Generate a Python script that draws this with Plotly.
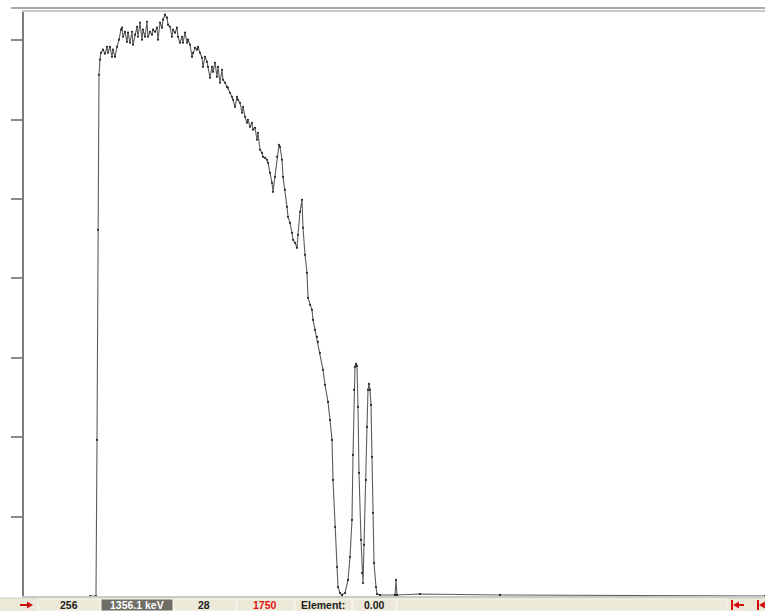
import plotly.graph_objects as go

# Spectrum data (channel, counts)
channels = [
    66, 72, 73, 74, 75, 76, 77, 79, 81, 83,
    84, 86, 88, 89, 91, 93, 95, 97, 98, 99,
    101, 103, 104, 106, 108, 109, 111, 113, 114, 116,
    118, 119, 121, 123, 124, 126, 128, 129, 131, 133,
    134, 136, 138, 139, 141, 143, 144, 146, 148, 149,
    151, 153, 154, 156, 158, 159, 161, 163, 164, 166,
    168, 169, 171, 173, 174, 176, 178, 179, 181, 183,
    184, 186, 188, 189, 191, 193, 194, 196, 198, 199,
    201, 203, 204, 206, 208, 209, 211, 213, 214, 216,
    218, 219, 221, 223, 224, 226, 228, 229, 231, 233,
    234, 236, 238, 239, 241, 243, 244, 246, 248, 249,
    251, 253, 255, 256, 258, 259, 261, 263, 264, 266,
    268, 269, 271, 273, 274, 276, 278, 279, 281, 283,
    284, 286, 288, 289, 291, 293, 294, 296, 299, 301,
    304, 306, 308, 309, 311, 313, 314, 316, 318, 321,
    324, 326, 328, 329, 330, 331, 332, 333, 334, 335,
    337, 338, 339, 340, 342, 343, 344, 345, 346, 347,
    348, 349, 350, 352, 353, 356, 371, 372, 373, 396,
    476, 741,
]
counts = [
    0, 0, 1966, 4612, 6565, 6754, 6842, 6880, 6829, 6917,
    6842, 6917, 6791, 6880, 6791, 6917, 7006, 7132, 7157, 7043,
    7106, 6980, 7094, 6968, 7106, 6943, 7069, 7169, 7043, 7220,
    7006, 7132, 7043, 7232, 7043, 7106, 7069, 7132, 7106, 7157,
    7006, 7220, 7157, 7258, 7321, 7283, 7195, 7169, 7043, 7132,
    7094, 7157, 7043, 6968, 7043, 6968, 7094, 6968, 7006, 6943,
    6791, 6842, 6905, 6880, 6917, 6842, 6779, 6665, 6791, 6728,
    6665, 6527, 6665, 6602, 6716, 6539, 6665, 6464, 6628, 6502,
    6464, 6413, 6401, 6338, 6287, 6250, 6161, 6287, 6250, 6212,
    6086, 6161, 6035, 5960, 5998, 5909, 5960, 5872, 5897, 5746,
    5834, 5620, 5582, 5531, 5519, 5494, 5456, 5330, 5204, 5090,
    5279, 5531, 5683, 5657, 5494, 5279, 5116, 4901, 4775, 4700,
    4574, 4486, 4448, 4385, 4549, 4838, 4990, 4637, 4297, 4070,
    3755, 3667, 3604, 3478, 3352, 3263, 3200, 3062, 2848, 2659,
    2444, 2218, 1966, 1462, 869, 365, 113, 38, 13, 38,
    202, 491, 958, 1777, 2596, 2885, 2923, 2898, 2381, 1550,
    706, 290, 164, 643, 1462, 2129, 2596, 2671, 2596, 2407,
    1751, 1046, 416, 113, 25, 13, 13, 202, 13, 25,
    13, 0,
]
y_ticks = [1000, 2000, 3000, 4000, 5000, 6000, 7000]

# Status bar texts
status_texts = ["256", "1356.1 keV", "28", "1750", "Element:", "0.00"]

W, H = 765, 611


def px(x):
    return x / W


def py(y):
    return (H - y) / H


fig = go.Figure()
fig.add_trace(go.Scatter(
    x=channels, y=counts, mode="lines+markers",
    line=dict(color="#5c5c5c", width=1.1),
    marker=dict(color="#262626", size=2.2),
    hoverinfo="skip", showlegend=False,
))

shapes = []
annotations = []

# top dark rule
shapes.append(dict(type="line", xref="paper", yref="paper",
                   x0=px(11), x1=1, y0=py(8), y1=py(8),
                   line=dict(color="#8c8c84", width=1.5)))

# status bar background
shapes.append(dict(type="rect", xref="paper", yref="paper",
                   x0=0, x1=1, y0=0, y1=py(598),
                   fillcolor="#ECE9D8", line=dict(width=0), layer="below"))
shapes.append(dict(type="line", xref="paper", yref="paper",
                   x0=px(0), x1=1, y0=py(598), y1=py(598),
                   line=dict(color="#d4d0c8", width=1)))

# status cells (x0, x1, fill)
cells = [(38, 100, "#ECE9D8"), (101, 173, "#6E6E66"), (174, 236, "#ECE9D8"),
         (237, 294, "#ECE9D8"), (295, 352, "#ECE9D8"), (353, 396, "#ECE9D8"),
         (397, 727, "#ECE9D8")]
for x0, x1, fc in cells:
    shapes.append(dict(type="rect", xref="paper", yref="paper",
                       x0=px(x0), x1=px(x1), y0=py(611), y1=py(599),
                       fillcolor=fc, line=dict(color="#f8f6ee", width=1)))

# red arrow on the left
shapes.append(dict(type="path", xref="paper", yref="paper",
                   path=f"M {px(20)} {py(604)} L {px(27)} {py(604)} L {px(27)} {py(601.5)} "
                        f"L {px(33)} {py(605)} L {px(27)} {py(608.5)} L {px(27)} {py(606)} "
                        f"L {px(20)} {py(606)} Z",
                   fillcolor="#d01010", line=dict(width=0)))
# red icons on the right
for bx in (731, 757):
    shapes.append(dict(type="rect", xref="paper", yref="paper",
                       x0=px(bx), x1=px(bx + 2), y0=py(610), y1=py(600),
                       fillcolor="#d01010", line=dict(width=0)))
    shapes.append(dict(type="path", xref="paper", yref="paper",
                       path=f"M {px(bx + 2)} {py(605)} L {px(bx + 8)} {py(601.5)} "
                            f"L {px(bx + 8)} {py(604)} L {px(bx + 13)} {py(604)} "
                            f"L {px(bx + 13)} {py(606)} L {px(bx + 8)} {py(606)} "
                            f"L {px(bx + 8)} {py(608.5)} Z",
                       fillcolor="#d01010", line=dict(width=0)))

text_pos = [69, 137, 204, 265, 323, 374]
text_col = ["#202020", "#ffffff", "#202020", "#e01010", "#202020", "#202020"]
for t, xc, c in zip(status_texts, text_pos, text_col):
    annotations.append(dict(text=f"<b>{t}</b>", x=px(xc), y=py(605),
                            xref="paper", yref="paper", showarrow=False,
                            xanchor="center", yanchor="middle",
                            font=dict(family="Liberation Sans", size=10.5, color=c)))

fig.update_layout(
    width=W, height=H,
    margin=dict(l=0, r=0, t=0, b=0),
    paper_bgcolor="#ffffff", plot_bgcolor="#ffffff",
    showlegend=False,
    hovermode=False,
    shapes=shapes,
    annotations=annotations,
    xaxis=dict(domain=[px(24), 1], range=[0, 741], showgrid=False,
               zeroline=False, showticklabels=False, ticks="",
               showline=True, linecolor="#c8c8c8", linewidth=2, mirror=True,
               fixedrange=True),
    yaxis=dict(domain=[py(596), py(12)], range=[0, 7355], showgrid=False,
               zeroline=False, showticklabels=False,
               tickvals=y_ticks, ticks="outside", ticklen=11, tickwidth=2,
               tickcolor="#8a8a8a",
               showline=True, linecolor="#7d7d7d", linewidth=2,
               fixedrange=True),
)

fig.write_html(
    "out.html",
    config={"displayModeBar": False},
    post_script="document.body.style.margin='0';document.body.style.overflow='hidden';",
)
